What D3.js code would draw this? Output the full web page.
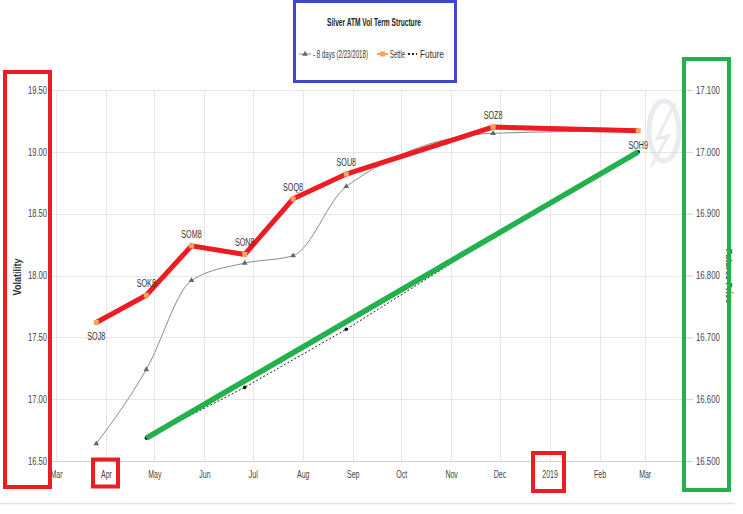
<!DOCTYPE html>
<html>
<head>
<meta charset="utf-8">
<script src="https://cdn.jsdelivr.net/npm/d3@7"></script>
<style>
  html, body { margin: 0; padding: 0; background: #fff; }
  svg { display: block; }
  text { font-family: "Liberation Sans Narrow", "Arial Narrow", "Liberation Sans", Arial, sans-serif; }
</style>
</head>
<body>
<svg id="chart" width="743" height="514"></svg>
<script>
// ---------- DATA ----------
const contracts   = ["SOJ8","SOK8","SOM8","SON8","SOQ8","SOU8","SOZ8","SOH9"];
const expiries    = ["2018-03-26","2018-04-26","2018-05-24","2018-06-26","2018-07-26","2018-08-28","2018-11-27","2019-02-25"];
const settleVol   = [17.62, 17.84, 18.24, 18.17, 18.62, 18.82, 19.20, 19.17];
const days8Vol    = [16.64, 17.24, 17.96, 18.10, 18.16, 18.72, 19.15, 19.17];
const futureDates = ["2018-04-26","2018-06-26","2018-08-28","2018-11-27","2019-02-25"];
const futurePrice = [16.537, 16.619, 16.713, 16.862, 17.000];
const xTickDates  = ["2018-03-01","2018-04-01","2018-05-01","2018-06-01","2018-07-01","2018-08-01","2018-09-01","2018-10-01","2018-11-01","2018-12-01","2019-01-01","2019-02-01","2019-03-01"];
const xTickLabels = ["Mar","Apr","May","Jun","Jul","Aug","Sep","Oct","Nov","Dec","2019","Feb","Mar"];
const volTicks    = [16.5, 17.0, 17.5, 18.0, 18.5, 19.0, 19.5];
const priceTicks  = [16.5, 16.6, 16.7, 16.8, 16.9, 17.0, 17.1];
const titleText   = "Silver ATM Vol Term Structure";
const legendNames = ["- 8 days (2/23/2018)", "Settle", "Future"];

// ---------- SETUP ----------
const parse = d3.utcParse("%Y-%m-%d");
const svg = d3.select("#chart");
const plotL = 50, plotR = 685, plotT = 90, plotB = 461;

// squeeze text horizontally to mimic the narrow face of the original
function condense(sel, f) {
  sel.each(function () {
    const w = this.getComputedTextLength();
    if (w > 0) d3.select(this).attr("textLength", w * f).attr("lengthAdjust", "spacingAndGlyphs");
  });
}
// place a text squeezed to a given width via a scale transform
function squeezedText(parent, tx, ty, str, size, width, opts = {}) {
  const g = parent.append("g");
  const t = g.append("text").attr("x", 0).attr("y", 0).attr("font-size", size)
    .attr("fill", opts.fill || "#333").attr("font-weight", opts.weight || "normal")
    .attr("text-anchor", opts.anchor || "start").text(str);
  const w = t.node().getComputedTextLength();
  g.attr("transform", `translate(${tx},${ty}) scale(${width / w},1)`);
  return g;
}

const x = d3.scaleUtc()
  .domain([parse("2018-03-01"), parse("2019-03-26")])
  .range([56, 685]);
const yL = d3.scaleLinear().domain([16.5, 19.5]).range([plotB, plotT]);
const yR = d3.scaleLinear().domain([16.5, 17.1]).range([plotB, plotT]);

const settle = expiries.map((d, i) => ({date: parse(d), v: settleVol[i], name: contracts[i]}));
const days8  = expiries.map((d, i) => ({date: parse(d), v: days8Vol[i]}));
const fut    = futureDates.map((d, i) => ({date: parse(d), v: futurePrice[i]}));

// bottom separator line
svg.append("line").attr("x1", 0).attr("x2", 735).attr("y1", 503.5).attr("y2", 503.5)
  .attr("stroke", "#e3e3e3").attr("stroke-width", 1.5);

// ---------- GRID ----------
const grid = svg.append("g");
grid.selectAll("line.h").data(volTicks).join("line")
  .attr("x1", plotL).attr("x2", plotR)
  .attr("y1", d => Math.round(yL(d)) + 0.5).attr("y2", d => Math.round(yL(d)) + 0.5)
  .attr("stroke", "#e6e6e6");
grid.selectAll("line.v").data(xTickDates).join("line")
  .attr("x1", d => Math.round(x(parse(d))) + 0.5).attr("x2", d => Math.round(x(parse(d))) + 0.5)
  .attr("y1", plotT).attr("y2", plotB)
  .attr("stroke", "#e6e6e6");
svg.append("line").attr("x1", plotR + 0.5).attr("x2", plotR + 0.5).attr("y1", plotT).attr("y2", plotB + 8)
  .attr("stroke", "#dcdcdc");
svg.append("line").attr("x1", plotL).attr("x2", plotR).attr("y1", plotB + 0.5).attr("y2", plotB + 0.5)
  .attr("stroke", "#d0d0d0");

// ---------- AXES ----------
const axL = d3.axisLeft(yL).tickValues(volTicks).tickFormat(d3.format(".2f")).tickSize(0).tickPadding(0);
const gL = svg.append("g").attr("transform", `translate(${plotL - 3},0)`).call(axL);
gL.select(".domain").remove();
gL.selectAll("text").attr("font-size", 10).attr("fill", "#444");
condense(gL.selectAll("text"), 0.76);

const axR = d3.axisRight(yR).tickValues(priceTicks).tickFormat(d3.format(".3f")).tickSize(8).tickPadding(3);
const gR = svg.append("g").attr("transform", `translate(${plotR},0)`).call(axR);
gR.select(".domain").remove();
gR.selectAll("line").attr("stroke", "#cfcfcf");
gR.selectAll("text").attr("font-size", 10).attr("fill", "#444");
condense(gR.selectAll("text"), 0.78);

const axB = d3.axisBottom(x).tickValues(xTickDates.map(parse))
  .tickFormat((d, i) => xTickLabels[i]).tickSize(0).tickPadding(10);
const gB = svg.append("g").attr("transform", `translate(0,${plotB})`).call(axB);
gB.select(".domain").remove();
gB.selectAll("text").attr("font-size", 10).attr("fill", "#444");
condense(gB.selectAll("text"), 0.7);

// axis titles
const vt = svg.append("text").attr("transform", "translate(21,277) rotate(-90)")
  .attr("text-anchor", "middle").attr("font-size", 10).attr("font-weight", "bold")
  .attr("fill", "#333").text("Volatility");
condense(vt, 0.9);
const ft = svg.append("text").attr("transform", "translate(726,276) rotate(90)")
  .attr("text-anchor", "middle").attr("font-size", 9).attr("font-weight", "bold")
  .attr("fill", "#2d3f5a").text("Futures Price");
condense(ft, 0.95);

// ---------- WATERMARK ----------
const wm = svg.append("g").attr("opacity", 0.45);
wm.append("ellipse").attr("cx", 664).attr("cy", 131).attr("rx", 15).attr("ry", 30)
  .attr("fill", "none").attr("stroke", "#cdd6e0").attr("stroke-width", 5);
wm.append("path").attr("d", "M675,103 L657,139 L668,136 L651,167")
  .attr("fill", "none").attr("stroke", "#cdd6e0").attr("stroke-width", 3);

// ---------- SERIES ----------
const line8 = d3.line().x(d => x(d.date)).y(d => yL(d.v)).curve(d3.curveMonotoneX);
svg.append("path").datum(days8).attr("d", line8)
  .attr("fill", "none").attr("stroke", "#8c8c8c").attr("stroke-width", 1);
const tri = d3.symbol().type(d3.symbolTriangle).size(14);
svg.selectAll("path.tri").data(days8.slice(0, 7)).join("path")
  .attr("d", tri).attr("transform", d => `translate(${x(d.date)},${yL(d.v)})`)
  .attr("fill", "#666");

const lineF = d3.line().x(d => x(d.date)).y(d => yR(d.v));
svg.append("path").datum(fut).attr("d", lineF)
  .attr("fill", "none").attr("stroke", "#222").attr("stroke-width", 1).attr("stroke-dasharray", "2,2");
svg.selectAll("circle.fut").data(fut).join("circle")
  .attr("cx", d => x(d.date)).attr("cy", d => yR(d.v)).attr("r", 1.8).attr("fill", "#111");

const fEnds = [fut[0], fut[fut.length - 1]];
svg.append("path").datum(fEnds).attr("d", lineF)
  .attr("fill", "none").attr("stroke", "#22b14c").attr("stroke-width", 5.5);

const lineS = d3.line().x(d => x(d.date)).y(d => yL(d.v));
svg.append("path").datum(settle).attr("d", lineS)
  .attr("fill", "none").attr("stroke", "#f7a35c").attr("stroke-width", 1.5)
  .attr("transform", "translate(0,-1.5)");
svg.append("path").datum(settle).attr("d", lineS)
  .attr("fill", "none").attr("stroke", "#ed1c24").attr("stroke-width", 5);
svg.selectAll("rect.sm").data(settle).join("rect")
  .attr("x", d => x(d.date) - 2.5).attr("y", d => yL(d.v) - 2.5)
  .attr("width", 5).attr("height", 5).attr("fill", "#f7a35c");

const below = new Set(["SOJ8", "SOH9"]);
const lbls = svg.selectAll("text.lbl").data(settle).join("text")
  .attr("x", d => x(d.date)).attr("y", d => below.has(d.name) ? yL(d.v) + 18 : yL(d.v) - 8)
  .attr("text-anchor", "middle").attr("font-size", 10).attr("fill", "#333")
  .text(d => d.name);
condense(lbls, 0.72);

// ---------- TITLE / LEGEND ----------
squeezedText(svg, 374, 25.5, titleText, 11, 94, {anchor: "middle", weight: "bold", fill: "#222"});

const lg = svg.append("g");
lg.append("line").attr("x1", 299).attr("x2", 311).attr("y1", 54).attr("y2", 54).attr("stroke", "#8c8c8c");
lg.append("path").attr("d", tri).attr("transform", "translate(305,54)").attr("fill", "#666");
squeezedText(lg, 313, 57.5, legendNames[0], 10.5, 55);
lg.append("line").attr("x1", 377).attr("x2", 388).attr("y1", 54).attr("y2", 54).attr("stroke", "#f7a35c").attr("stroke-width", 2);
lg.append("rect").attr("x", 380).attr("y", 51.5).attr("width", 5).attr("height", 5).attr("fill", "#f7a35c");
squeezedText(lg, 390, 57.5, legendNames[1], 10.5, 15);
lg.append("line").attr("x1", 408).attr("x2", 417).attr("y1", 54).attr("y2", 54).attr("stroke", "#222")
  .attr("stroke-width", 2).attr("stroke-dasharray", "2,2");
squeezedText(lg, 420, 57.5, legendNames[2], 10.5, 24);

// ---------- ANNOTATION BOXES ----------
const boxes = [
  {x: 294.5, y: 1.5, w: 161, h: 80, c: "#3f48cc", sw: 3},
  {x: 5, y: 72, w: 45, h: 415, c: "#ed1c24", sw: 4},
  {x: 93, y: 459.5, w: 25, h: 27, c: "#ed1c24", sw: 4},
  {x: 533, y: 453, w: 31, h: 38, c: "#ed1c24", sw: 4},
  {x: 684, y: 59, w: 45, h: 431, c: "#22b14c", sw: 4}
];
svg.selectAll("rect.box").data(boxes).join("rect")
  .attr("x", d => d.x).attr("y", d => d.y).attr("width", d => d.w).attr("height", d => d.h)
  .attr("fill", "none").attr("stroke", d => d.c).attr("stroke-width", d => d.sw);
</script>
</body>
</html>
